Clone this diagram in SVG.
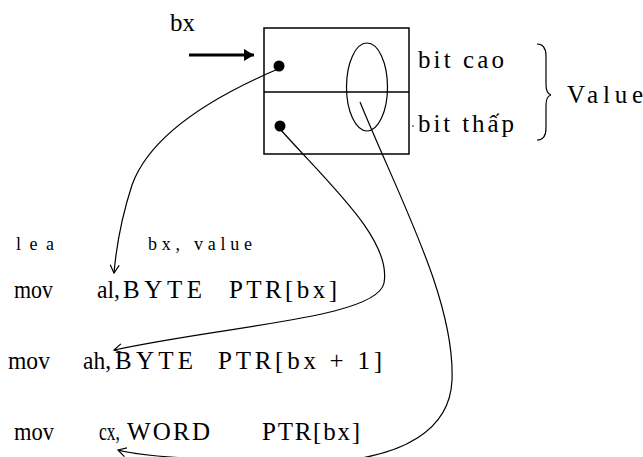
<svg xmlns="http://www.w3.org/2000/svg" width="643" height="457" viewBox="0 0 643 457">
<defs>
<style>
.t{font-family:'Liberation Serif','DejaVu Serif',serif;font-size:25px;fill:#000;}
.s{font-family:'Liberation Serif','DejaVu Serif',serif;font-size:18px;fill:#000;}
.ln{fill:none;stroke:#000;stroke-width:1.2;}
</style>
<marker id="open" markerWidth="12" markerHeight="12" refX="9" refY="5" orient="auto" markerUnits="userSpaceOnUse">
<path d="M1,0.5 L9,5 L1,9.5" fill="none" stroke="#000" stroke-width="1.2"/>
</marker>
<marker id="solid" markerWidth="12" markerHeight="12" refX="10" refY="6" orient="auto" markerUnits="userSpaceOnUse">
<path d="M0,0 L10,6 L0,12 Z" fill="#000"/>
</marker>
</defs>
<rect width="643" height="457" fill="#fff"/>

<g id="memory">
<rect x="264" y="28" width="145" height="126" fill="none" stroke="#000" stroke-width="1.5"/>
<line x1="264" y1="92" x2="409" y2="92" stroke="#000" stroke-width="1.5"/>
<circle cx="279" cy="66" r="5.5" fill="#000"/>
<circle cx="280" cy="126" r="5.5" fill="#000"/>
<ellipse cx="367" cy="87" rx="20.5" ry="44" fill="none" stroke="#000" stroke-width="1.2"/>
<circle cx="413" cy="126" r="0.8" fill="#000"/>
</g>

<g id="bx-label">
<text class="t" x="170" y="31">bx</text>
</g>

<g id="labels">
<text class="t" x="418" y="68" textLength="86" lengthAdjust="spacing">bit cao</text>
<text class="t" x="418" y="132" textLength="96" lengthAdjust="spacing">bit thấp</text>
<path class="ln" d="M537,44 Q546,44 546,56 L546,84 Q546,94 551,95 Q546,96 546,106 L546,128 Q546,140 537,140"/>
<text class="t" x="567" y="103" textLength="76" lengthAdjust="spacing">Value</text>
</g>

<g id="code">
<text class="s" x="16" y="250" textLength="38" lengthAdjust="spacing">lea</text>
<text class="s" x="148" y="250" textLength="104" lengthAdjust="spacing">bx, value</text>

<text class="t" x="14" y="298" textLength="39" lengthAdjust="spacingAndGlyphs">mov</text>
<text class="t" x="97" y="298" textLength="23" lengthAdjust="spacingAndGlyphs">al,</text>
<text class="t" x="123" y="298" textLength="79" lengthAdjust="spacing">BYTE</text>
<text class="t" x="229" y="298" textLength="108" lengthAdjust="spacing">PTR[bx]</text>

<text class="t" x="8" y="369" textLength="42" lengthAdjust="spacingAndGlyphs">mov</text>
<text class="t" x="83" y="369" textLength="28" lengthAdjust="spacingAndGlyphs">ah,</text>
<text class="t" x="115" y="369" textLength="78" lengthAdjust="spacing">BYTE</text>
<text class="t" x="218" y="369" textLength="164" lengthAdjust="spacing">PTR[bx + 1]</text>

<text class="t" x="14" y="440" textLength="40" lengthAdjust="spacingAndGlyphs">mov</text>
<text class="t" x="99" y="440" textLength="21" lengthAdjust="spacingAndGlyphs">cx,</text>
<text class="t" x="127" y="440" textLength="83" lengthAdjust="spacing">WORD</text>
<text class="t" x="262" y="440" textLength="98" lengthAdjust="spacing">PTR[bx]</text>
</g>

<g id="connectors">
<line x1="189" y1="55" x2="254" y2="55" stroke="#000" stroke-width="3" marker-end="url(#solid)"/>
<path class="ln" d="M278,69 C210,98 150,135 132,185 C120,222 116,250 114,273" marker-end="url(#open)"/>
<path class="ln" d="M280,129 C330,185 392,240 384,283 C377,318 230,325 114,350" marker-end="url(#open)"/>
<path class="ln" d="M360,102 C400,200 455,300 452,380 C450,432 400,455 340,461 L200,459 C165,457 135,455 118,450" marker-end="url(#open)"/>
</g>
</svg>
